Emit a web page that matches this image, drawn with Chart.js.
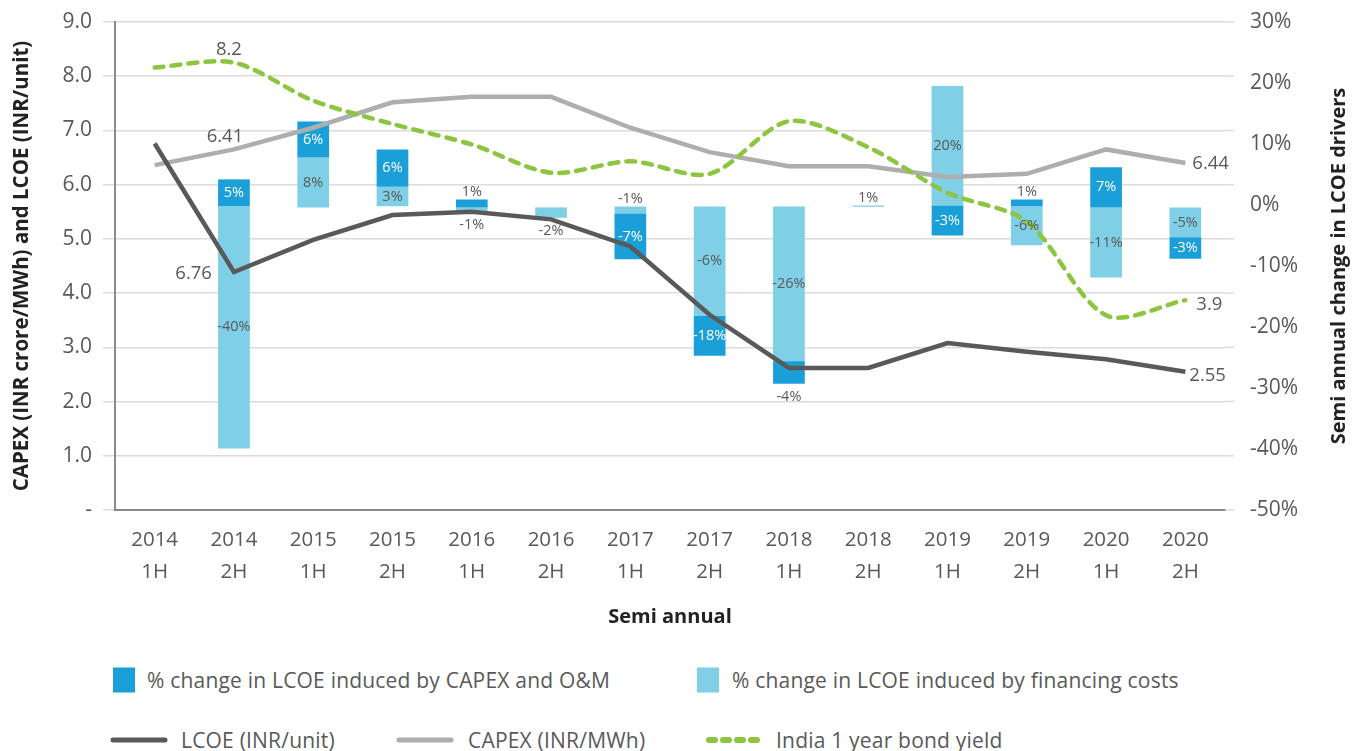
<!DOCTYPE html>
<html>
<head>
  <title>LCOE drivers</title>
  <script src="https://cdn.jsdelivr.net/npm/chart.js"></script>
  <style>
    body { margin: 0; font-family: "Open Sans", sans-serif; overflow: hidden; background: #fff; }
    #wrap { position: relative; width: 1352px; height: 751px; }
    canvas { position: absolute; left: 0; top: 0; }
    .txt { position: absolute; font-size: 21px; letter-spacing: 0.2px; color: #595959; white-space: nowrap; transform: translateY(-50%); }
    .box { position: absolute; width: 22px; height: 25px; transform: translateY(-50%); }
    .key { position: absolute; transform: translateY(-50%); }
  </style>
</head>
<body>
  <div id="wrap">
    <canvas id="chart" width="1352" height="640"></canvas>

    <div class="box" style="left:113px; top:680px; background:#1a9fd9"></div>
    <div class="txt" style="left:147px; top:680px">% change in LCOE induced by CAPEX and O&amp;M</div>
    <div class="box" style="left:697px; top:680px; background:#7fcfe6"></div>
    <div class="txt" style="left:732px; top:680px">% change in LCOE induced by financing costs</div>

    <svg class="key" style="left:110px; top:740px" width="58" height="8"><line x1="3" y1="4" x2="55" y2="4" stroke="#595959" stroke-width="5" stroke-linecap="round"/></svg>
    <div class="txt" style="left:181px; top:740px">LCOE (INR/unit)</div>
    <svg class="key" style="left:396px; top:740px" width="58" height="8"><line x1="3" y1="4" x2="55" y2="4" stroke="#aeaeae" stroke-width="5" stroke-linecap="round"/></svg>
    <div class="txt" style="left:468px; top:740px">CAPEX (INR/MWh)</div>
    <svg class="key" style="left:705px; top:740px" width="58" height="8"><line x1="4" y1="4" x2="55" y2="4" stroke="#8dc540" stroke-width="6" stroke-linecap="round" stroke-dasharray="6 8"/></svg>
    <div class="txt" style="left:776px; top:740px">India 1 year bond yield</div>
  </div>

  <script>
    const periods = [
      ["2014", "1H"], ["2014", "2H"], ["2015", "1H"], ["2015", "2H"],
      ["2016", "1H"], ["2016", "2H"], ["2017", "1H"], ["2017", "2H"],
      ["2018", "1H"], ["2018", "2H"], ["2019", "1H"], ["2019", "2H"],
      ["2020", "1H"], ["2020", "2H"]
    ];

    // left axis values
    const lcoe  = [6.76, 4.39, 4.98, 5.44, 5.50, 5.36, 4.86, 3.60, 2.62, 2.62, 3.08, 2.92, 2.78, 2.55];
    const capex = [6.36, 6.65, 7.05, 7.52, 7.62, 7.62, 7.05, 6.60, 6.34, 6.34, 6.14, 6.20, 6.65, 6.40];
    const bond  = [8.16, 8.25, 7.55, 7.12, 6.74, 6.22, 6.43, 6.20, 7.17, 6.69, 5.85, 5.32, 3.59, 3.87];

    // right axis, floating segments [from %, to %]
    const capexOmChange = [null, [-0.2, 4.2], [7.8, 13.7], [3.0, 9.1], [-0.4, 0.9], null,
      [-8.9, -1.4], [-24.7, -18.2], [-29.3, -25.6], null, [-5.0, -0.1], [-0.2, 0.9], [-0.4, 6.2], [-8.8, -5.3]];
    const financingChange = [null, [-39.9, -0.2], [-0.4, 7.8], [-0.2, 3.0], [-1.1, -0.4], [-2.1, -0.4],
      [-1.4, -0.25], [-18.2, -0.25], [-25.6, -0.25], [-0.3, 0], [-0.1, 19.5], [-6.6, -0.2], [-11.9, -0.4], [-5.3, -0.4]];

    const capexOmLabels   = [null, "5%", "6%", "6%", "1%", null, "-7%", "-18%", "-4%", null, "-3%", "1%", "7%", "-3%"];
    const financingLabels = [null, "-40%", "8%", "3%", "-1%", "-2%", "-1%", "-6%", "-26%", "1%", "20%", "-6%", "-11%", "-5%"];

    const lcoeNotes  = ["6.76", "2.55"];
    const capexNotes = ["6.41", "6.44"];
    const bondNotes  = ["8.2", "3.9"];

    const GREY = "#595959";

    // labels that sit outside their segment: a = above, b = below
    const outside = { "0:4": "a", "0:8": "b", "0:11": "a", "1:4": "b", "1:5": "b", "1:6": "a", "1:9": "a" };

    const labelPlugin = {
      id: "labels",
      afterDatasetsDraw(chart) {
        const ctx = chart.ctx;
        ctx.save();
        ctx.textAlign = "center";
        ctx.textBaseline = "middle";
        ctx.font = '14.5px "Open Sans"';
        [[0, capexOmLabels, "#fff"], [1, financingLabels, GREY]].forEach(([di, texts, col]) => {
          chart.getDatasetMeta(di).data.forEach((bar, i) => {
            if (!texts[i]) return;
            const top = Math.min(bar.y, bar.base), bot = Math.max(bar.y, bar.base);
            let y = (top + bot) / 2, c = col;
            const place = outside[di + ":" + i];
            if (place === "a") { y = top - 8; c = GREY; }
            if (place === "b") { y = bot + 13; c = GREY; }
            ctx.fillStyle = c;
            ctx.fillText(texts[i], bar.x, y);
          });
        });

        // value notes next to the lines
        ctx.font = '18.5px "Open Sans"';
        ctx.fillStyle = GREY;
        const last = periods.length - 1;
        const pt = (di, i) => chart.getDatasetMeta(di).data[i];
        let p = pt(2, 1);
        ctx.textAlign = "right"; ctx.fillText(lcoeNotes[0], p.x - 22, p.y + 2);
        ctx.textAlign = "center";
        p = pt(3, 1); ctx.fillText(capexNotes[0], p.x - 9, p.y - 13);
        p = pt(4, 1); ctx.fillText(bondNotes[0], p.x - 5, p.y - 13);
        ctx.textAlign = "left";
        p = pt(2, last); ctx.fillText(lcoeNotes[1], p.x + 4, p.y + 4);
        p = pt(3, last); ctx.fillText(capexNotes[1], p.x + 7, p.y + 1);
        p = pt(4, last); ctx.fillText(bondNotes[1], p.x + 11, p.y + 5);

        // grid stubs beyond the right edge
        const ys = chart.scales.y, area = chart.chartArea;
        ctx.strokeStyle = "#dcdcdc";
        ctx.lineWidth = 1.5;
        ys.ticks.forEach((t, i) => {
          const y = ys.getPixelForTick(i);
          ctx.beginPath(); ctx.moveTo(area.right, y); ctx.lineTo(area.right + 9, y); ctx.stroke();
        });

        // right axis title, reading bottom to top
        ctx.translate(1339, (area.top + area.bottom) / 2);
        ctx.rotate(-Math.PI / 2);
        ctx.textAlign = "center";
        ctx.fillStyle = "#222";
        ctx.font = 'bold 20px "Open Sans"';
        ctx.fillText("Semi annual change in LCOE drivers", 0, 0);
        ctx.restore();
      }
    };

    const noPad = s => { s.paddingTop = 0; s.paddingBottom = 0; };

    new Chart(document.getElementById("chart"), {
      type: "bar",
      data: {
        labels: periods,
        datasets: [
          { label: "% change in LCOE induced by CAPEX and O&M", data: capexOmChange, yAxisID: "y1",
            backgroundColor: "#1a9fd9", order: 2, grouped: false, categoryPercentage: 1, barPercentage: 0.4 },
          { label: "% change in LCOE induced by financing costs", data: financingChange, yAxisID: "y1",
            backgroundColor: "#7fcfe6", order: 3, grouped: false, categoryPercentage: 1, barPercentage: 0.4 },
          { type: "line", label: "LCOE (INR/unit)", data: lcoe, yAxisID: "y", order: 1,
            borderColor: GREY, borderWidth: 4.5, pointRadius: 0, tension: 0, fill: false },
          { type: "line", label: "CAPEX (INR/MWh)", data: capex, yAxisID: "y", order: 1,
            borderColor: "#aeaeae", borderWidth: 4.5, pointRadius: 0, tension: 0, fill: false },
          { type: "line", label: "India 1 year bond yield", data: bond, yAxisID: "y", order: 0,
            borderColor: "#8dc540", borderWidth: 4.5, borderDash: [9, 8], borderCapStyle: "round",
            pointRadius: 0, tension: 0.3, fill: false }
        ]
      },
      options: {
        responsive: false,
        animation: false,
        layout: { padding: { left: 8, right: 4, top: 22, bottom: 8 } },
        plugins: { legend: { display: false }, tooltip: { enabled: false } },
        scales: {
          x: {
            grid: { display: false, drawTicks: false },
            border: { display: true, color: "#8a8a8a", width: 2 },
            ticks: { color: GREY, padding: 14, font: { family: "Open Sans", size: 20.5, lineHeight: 1.56 } },
            title: { display: true, text: "Semi annual", color: "#222",
                     font: { family: "Open Sans", size: 20, weight: "bold" }, padding: { top: 0, bottom: 3 } },
            afterFit: s => { s.height = 122; s.paddingLeft = 0; s.paddingRight = 0; }
          },
          y: {
            position: "left", min: 0, max: 9,
            ticks: { stepSize: 1, color: GREY, padding: 11, font: { family: "Open Sans", size: 21 },
                     callback: v => v === 0 ? "-" : v.toFixed(1) },
            grid: { color: "#dcdcdc", lineWidth: 1.5, tickLength: 12 },
            border: { display: true, color: "#8a8a8a", width: 2 },
            title: { display: true, text: "CAPEX (INR crore/MWh) and LCOE (INR/unit)", color: "#222",
                     font: { family: "Open Sans", size: 20.5, weight: "bold" }, padding: { top: 2, bottom: 0 } },
            afterFit: s => { s.width = 107; noPad(s); }
          },
          y1: {
            position: "right", min: -50, max: 30,
            ticks: { stepSize: 10, color: GREY, padding: 25, font: { family: "Open Sans", size: 21 },
                     callback: v => v + "%" },
            grid: { drawOnChartArea: false, drawTicks: false },
            border: { display: false },
            afterFit: s => { s.width = 123; noPad(s); }
          }
        }
      },
      plugins: [labelPlugin]
    });
  </script>
</body>
</html>
